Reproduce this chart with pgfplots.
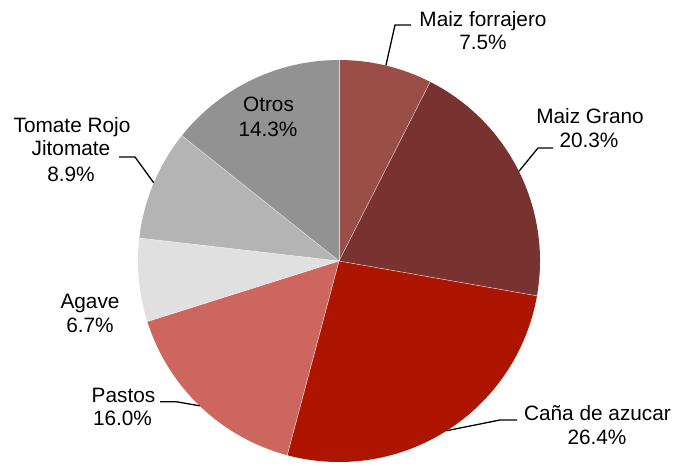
\documentclass[border=0pt]{standalone}
\usepackage{pgfplots}
\pgfplotsset{compat=1.18}
\usepackage{pgfplotstable}
\usepackage{fontspec}
\setmainfont{Liberation Sans}
\definecolor{cA}{HTML}{9B4D47}
\definecolor{cB}{HTML}{783230}
\definecolor{cC}{HTML}{AD1500}
\definecolor{cD}{HTML}{CD665F}
\definecolor{cE}{HTML}{E0E0E0}
\definecolor{cF}{HTML}{B4B4B4}
\definecolor{cG}{HTML}{929292}
\pgfplotstableread{
value color
7.5  cA
20.3 cB
26.4 cC
16.0 cD
6.7  cE
8.9  cF
14.3 cG
}\piedata
\tikzset{lbl/.style={font=\fontsize{20.8pt}{24.5pt}\selectfont, inner sep=0pt, anchor=base}}
\begin{document}
\begin{tikzpicture}
\begin{axis}[
  scale only axis, width=677pt, height=460pt,
  xmin=0, xmax=677, ymin=0, ymax=460,
  hide axis, clip=false,
]
\path (axis cs:0,0) rectangle (axis cs:677,460);
\def\cum{90}
\pgfplotsforeachungrouped \i in {0,...,6}{%
  \pgfplotstablegetelem{\i}{value}\of\piedata \let\v\pgfplotsretval
  \pgfplotstablegetelem{\i}{color}\of\piedata \let\c\pgfplotsretval
  \pgfmathsetmacro{\a}{\cum}%
  \pgfmathsetmacro{\b}{\cum - \v*360/100.1}%
  \edef\temp{\noexpand\fill[\c] (axis cs:339,199) -- ++(\a:201pt) arc[start angle=\a, end angle=\b, radius=201pt] -- cycle;}%
  \temp
  \global\let\cum\b
}
\def\cum{90}
\pgfplotsforeachungrouped \i in {0,...,6}{%
  \pgfplotstablegetelem{\i}{value}\of\piedata \let\v\pgfplotsretval
  \pgfmathsetmacro{\a}{\cum}%
  \pgfmathsetmacro{\b}{\cum - \v*360/100.1}%
  \edef\temp{\noexpand\draw[white, line width=0.5pt, opacity=0.7] (axis cs:339,199) -- ++(\a:201pt);}%
  \temp
  \global\let\cum\b
}
% leader lines
\draw[line width=1.3pt] (axis cs:385.9,394.5) -- (axis cs:395,435) -- (axis cs:411,435);
\draw[line width=1.3pt] (axis cs:518.9,288.7) -- (axis cs:538,312) -- (axis cs:553,312);
\draw[line width=1.3pt] (axis cs:446.7,29.3) -- (axis cs:500,40) -- (axis cs:517,40);
\draw[line width=1.3pt] (axis cs:199.7,54.2) -- (axis cs:176,58.3) -- (axis cs:160,58.3);
\draw[line width=1.3pt] (axis cs:153.8,277.1) -- (axis cs:135,303) -- (axis cs:119,303);
% labels
\node[lbl] at (axis cs:483,433.5) {Maiz forrajero};
\node[lbl] at (axis cs:483,410.5) {7.5\%};
\node[lbl] at (axis cs:590,336.7) {Maiz Grano};
\node[lbl] at (axis cs:589,312.7) {20.3\%};
\node[lbl] at (axis cs:597.5,39) {Caña de azucar};
\node[lbl] at (axis cs:597,15.5) {26.4\%};
\node[lbl] at (axis cs:123.5,57.7) {Pastos};
\node[lbl] at (axis cs:122.5,34) {16.0\%};
\node[lbl] at (axis cs:90,151) {Agave};
\node[lbl] at (axis cs:90,127.3) {6.7\%};
\node[lbl] at (axis cs:72,327.7) {Tomate Rojo};
\node[lbl] at (axis cs:71,304) {Jitomate};
\node[lbl] at (axis cs:71,278.3) {8.9\%};
\node[lbl] at (axis cs:268.5,348) {Otros};
\node[lbl] at (axis cs:268,323.3) {14.3\%};
\end{axis}
\end{tikzpicture}
\end{document}
